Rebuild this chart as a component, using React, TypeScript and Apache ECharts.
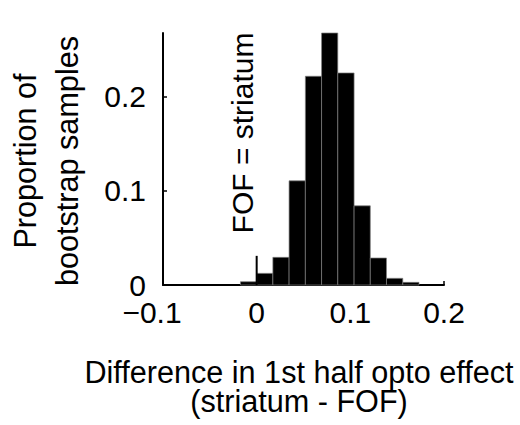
import React, { useEffect, useRef } from "react";
import * as echarts from "echarts";

const binEdges = [-0.0173, 0, 0.0173, 0.0346, 0.052, 0.0693, 0.0866, 0.104, 0.1213, 0.1386, 0.156, 0.1733];
const proportions = [0.0035, 0.0124, 0.0294, 0.1108, 0.222, 0.268, 0.2255, 0.0842, 0.0287, 0.0071, 0.0028];
const xTicks = [-0.1, 0, 0.1, 0.2];
const yTicks = [0, 0.1, 0.2];
const zeroLineX = [0, 0];
const zeroLineY = [0, 0.031];
const xTitle = ["Difference in 1st half opto effect", "(striatum - FOF)"];
const yTitle = ["Proportion of", "bootstrap samples"];
const annotation = "FOF = striatum";

const FONT = "'Liberation Sans', Arial, Helvetica, sans-serif";

export default function App() {
  const ref = useRef<HTMLDivElement>(null);
  useEffect(() => {
    if (!ref.current) return;
    const chart = echarts.init(ref.current, null, { renderer: "svg" });
    const histData = proportions.map((p, i) => [binEdges[i], binEdges[i + 1], p]);
    const fmt = (v: number) => (v < 0 ? "{neg|\u2212" + String(Math.abs(v)) + "}" : String(v));
    chart.setOption({
      animation: false,
      backgroundColor: "#fff",
      grid: { left: 163, right: 76, top: 33, bottom: 140 },
      xAxis: {
        type: "value",
        min: -0.1,
        max: 0.2,
        interval: 0.1,
        splitLine: { show: false },
        axisLine: { onZero: false, lineStyle: { color: "#000", width: 2 } },
        axisTick: { inside: true, length: 4, customValues: xTicks, lineStyle: { color: "#000", width: 1.5 } },
        axisLabel: {
          customValues: xTicks,
          formatter: fmt,
          fontSize: 30,
          color: "#000",
          fontFamily: FONT,
          margin: 12,
          rich: { neg: { fontSize: 30, color: "#000", fontFamily: FONT, padding: [0, 22, 0, 0] } },
        },
      },
      yAxis: {
        type: "value",
        min: 0,
        max: 0.268,
        interval: 0.1,
        splitLine: { show: false },
        axisLine: { show: true, onZero: false, lineStyle: { color: "#000", width: 2 } },
        axisTick: { show: true, inside: true, length: 4, customValues: yTicks, lineStyle: { color: "#000", width: 1.5 } },
        axisLabel: { customValues: yTicks, formatter: (v: number) => String(v), fontSize: 30, color: "#000", fontFamily: FONT, margin: 17 },
      },
      series: [
        {
          type: "custom",
          data: histData,
          encode: { x: [0, 1], y: 2 },
          renderItem: (params: any, api: any) => {
            const s = api.coord([api.value(0), api.value(2)]);
            const e = api.coord([api.value(1), 0]);
            return {
              type: "rect",
              shape: { x: s[0], y: s[1], width: e[0] - s[0], height: e[1] - s[1] },
              style: { fill: "#000", stroke: "#808080", lineWidth: 0.7 },
            };
          },
          z: 2,
        },
        {
          type: "line",
          data: zeroLineX.map((x, i) => [x, zeroLineY[i]]),
          symbol: "none",
          lineStyle: { color: "#000", width: 2 },
          z: 3,
        },
      ],
      graphic: [
        {
          type: "text",
          x: 299,
          y: 372,
          style: { text: xTitle[0], font: `30.6px ${FONT}`, fill: "#000", align: "center", verticalAlign: "middle" },
        },
        {
          type: "text",
          x: 299,
          y: 401,
          style: { text: xTitle[1], font: `30.6px ${FONT}`, fill: "#000", align: "center", verticalAlign: "middle" },
        },
        {
          type: "text",
          x: 25,
          y: 161,
          rotation: Math.PI / 2,
          style: { text: yTitle[0], font: `30.6px ${FONT}`, fill: "#000", align: "center", verticalAlign: "middle" },
        },
        {
          type: "text",
          x: 67,
          y: 161,
          rotation: Math.PI / 2,
          style: { text: yTitle[1], font: `30.6px ${FONT}`, fill: "#000", align: "center", verticalAlign: "middle" },
        },
        {
          type: "text",
          x: 242,
          y: 133,
          rotation: Math.PI / 2,
          style: { text: annotation, font: `30px ${FONT}`, fill: "#000", align: "center", verticalAlign: "middle" },
        },
      ],
    });
    return () => chart.dispose();
  }, []);
  return (
    <div
      ref={ref}
      style={{ position: "fixed", left: 0, top: 0, width: 520, height: 425, background: "#fff" }}
    />
  );
}
